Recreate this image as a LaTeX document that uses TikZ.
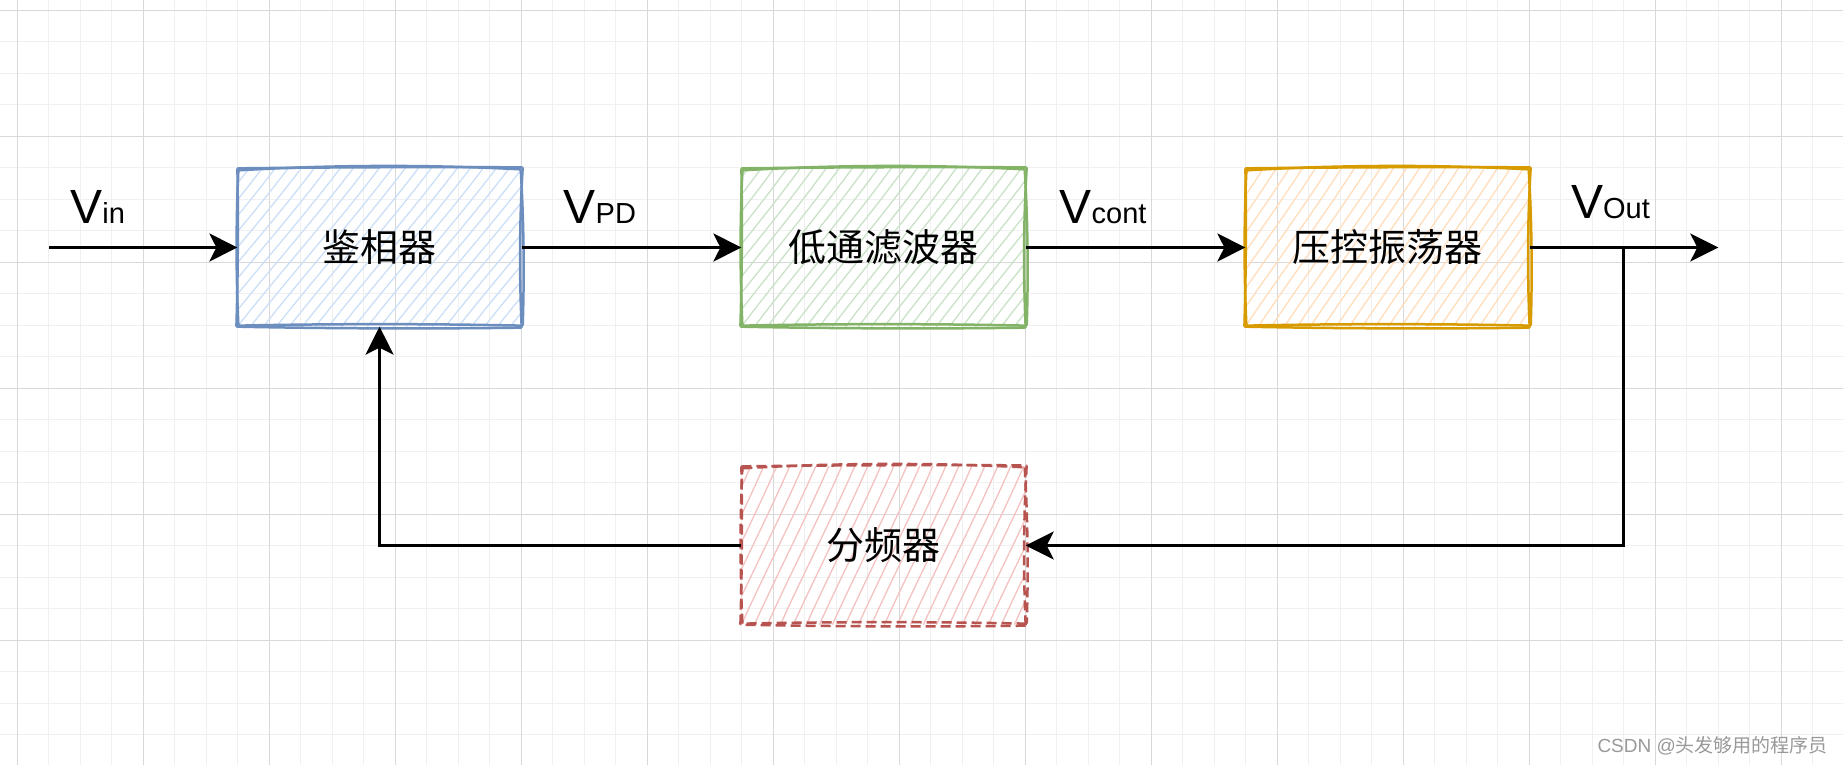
\documentclass[tikz,border=0pt]{standalone}
\usepackage{fontspec}
\setmainfont{Liberation Sans}
\newfontfamily\cjk{Noto Sans CJK SC}
\usetikzlibrary{arrows.meta,calc}
\pgfdeclarelayer{gridlayer}
\pgfdeclarelayer{bglayer}
\pgfsetlayers{gridlayer,bglayer,main}
\definecolor{bluestroke}{HTML}{6C8EBF}
\definecolor{bluefill}{HTML}{CCDFF8}
\definecolor{greenstroke}{HTML}{82B366}
\definecolor{greenfill}{HTML}{C9E2C8}
\definecolor{orangestroke}{HTML}{D79B00}
\definecolor{orangefill}{HTML}{FFDDBD}
\definecolor{redstroke}{HTML}{B85450}
\definecolor{redfill}{HTML}{F4C2C0}
\definecolor{gridminor}{HTML}{F0F0F0}
\definecolor{gridmajor}{HTML}{D9D9D9}
\definecolor{wmark}{HTML}{999999}

\newcommand\skseg[4]{\draw[#4] (#1) .. controls ($(#1)!0.33!(#2)!#3!90:(#2)$) and ($(#1)!0.67!(#2)!#3!90:(#2)$) .. (#2);}

% #1 node, #2 stroke colour, #3 hatch colour, #4 extra outline style, #5 hatch dx
\newcommand\sketchbox[5]{%
  \begin{pgfonlayer}{bglayer}
    \begin{scope}
      \clip (#1.south west) rectangle (#1.north east);
      \foreach \k in {-11,...,24}
        \draw[#3, line width=0.65pt] ($(#1.south west)+(\k*13,0)$) .. controls +(#5*0.3,-50) and +(-#5*0.3,52) .. ++(#5,-160);
    \end{scope}
    \coordinate (#1-a1) at ($(#1.north west)+(0,0)$);
    \coordinate (#1-b1) at ($(#1.north east)+(1,-1)$);
    \coordinate (#1-c1) at ($(#1.south east)+(0,1)$);
    \coordinate (#1-d1) at ($(#1.south west)+(-1,0)$);
    \coordinate (#1-a2) at ($(#1.north west)+(1,2)$);
    \coordinate (#1-b2) at ($(#1.north east)+(-1,1)$);
    \coordinate (#1-c2) at ($(#1.south east)+(1,-1)$);
    \coordinate (#1-d2) at ($(#1.south west)+(1,-1)$);
    \skseg{#1-a1}{#1-b1}{0.4pt}{#2,line width=1.25pt,#4}
    \skseg{#1-b1}{#1-c1}{-1.4pt}{#2,line width=1.25pt,#4}
    \skseg{#1-c1}{#1-d1}{0.8pt}{#2,line width=1.25pt,#4}
    \skseg{#1-d1}{#1-a1}{-0.6pt}{#2,line width=1.25pt,#4}
    \skseg{#1-a2}{#1-b2}{2.6pt}{#2,line width=1.25pt,#4}
    \skseg{#1-b2}{#1-c2}{1.2pt}{#2,line width=1.25pt,#4}
    \skseg{#1-c2}{#1-d2}{-1pt}{#2,line width=1.25pt,#4}
    \skseg{#1-d2}{#1-a2}{1.2pt}{#2,line width=1.25pt,#4}
  \end{pgfonlayer}}

\newcommand\bigV{{\fontsize{24}{28}\selectfont V}}
\newcommand\subtxt[1]{{\fontsize{14.5}{16}\selectfont #1}}

\tikzset{
  box/.style={minimum width=141.75pt, minimum height=78.75pt, inner sep=0pt,
    font=\cjk\fontsize{19}{23}\selectfont},
  lbl/.style={anchor=base west, inner sep=0pt},
  conn/.style={line width=1.35pt, black},
  arr/.style={conn, -{Stealth[length=14pt,width=14pt,inset=3.5pt]}}
}

\begin{document}
\begin{tikzpicture}[x=0.5pt, y=-0.5pt]
\useasboundingbox (0,0) rectangle (1843,765);
\begin{pgfonlayer}{gridlayer}
  \fill[white] (0,0) rectangle (1843,765);
  \foreach \i in {0,...,57}
    \draw[gridminor, line width=0.5pt] ({17.3+\i*31.5},0) -- ({17.3+\i*31.5},765);
  \foreach \j in {0,...,23}
    \draw[gridminor, line width=0.5pt] (0,{10.3+\j*31.5}) -- (1843,{10.3+\j*31.5});
  \foreach \i in {0,...,14}
    \draw[gridmajor, line width=0.6pt] ({17.3+\i*126},0) -- ({17.3+\i*126},765);
  \foreach \j in {0,...,5}
    \draw[gridmajor, line width=0.6pt] (0,{10.3+\j*126}) -- (1843,{10.3+\j*126});
\end{pgfonlayer}

\node[box] (b1) at (379.55,247.5) {鉴相器};
\node[box] (b2) at (883.55,247.5) {低通滤波器};
\node[box] (b3) at (1387.55,247.5) {压控振荡器};
\node[box] (b4) at (883.55,545.5) {分频器};

\sketchbox{b1}{bluestroke}{bluefill}{}{130}
\sketchbox{b2}{greenstroke}{greenfill}{}{125}
\sketchbox{b3}{orangestroke}{orangefill}{}{110}
\sketchbox{b4}{redstroke}{redfill}{dash pattern=on 5pt off 2.5pt}{75}

\node[lbl] (lin) at (70,223.3) {\bigV\subtxt{in}};
\node[lbl] (lpd) at (563.3,223.3) {\bigV\subtxt{PD}};
\node[lbl] (lcont) at (1059.3,223.3) {\bigV\subtxt{cont}};
\node[lbl] (lout) at (1570.7,218.3) {\bigV\subtxt{Out}};

\coordinate (in) at (48.8,247.5);
\coordinate (out) at (1718.3,247.5);
\coordinate (br) at (1623.8,247.5);
\draw[arr] (in) -- (b1.west);
\draw[arr] (b1.east) -- (b2.west);
\draw[arr] (b2.east) -- (b3.west);
\draw[arr] (b3.east) -- (out);
\draw[arr] (br) |- (b4.east);
\draw[arr] (b4.west) -| (b1.south);

\node[anchor=base east, text=wmark, inner sep=0pt] (wm) at (1828.3,752)
  {\fontsize{9.5}{11}\selectfont CSDN @{\cjk 头发够用的程序员}};
\end{tikzpicture}
\end{document}
